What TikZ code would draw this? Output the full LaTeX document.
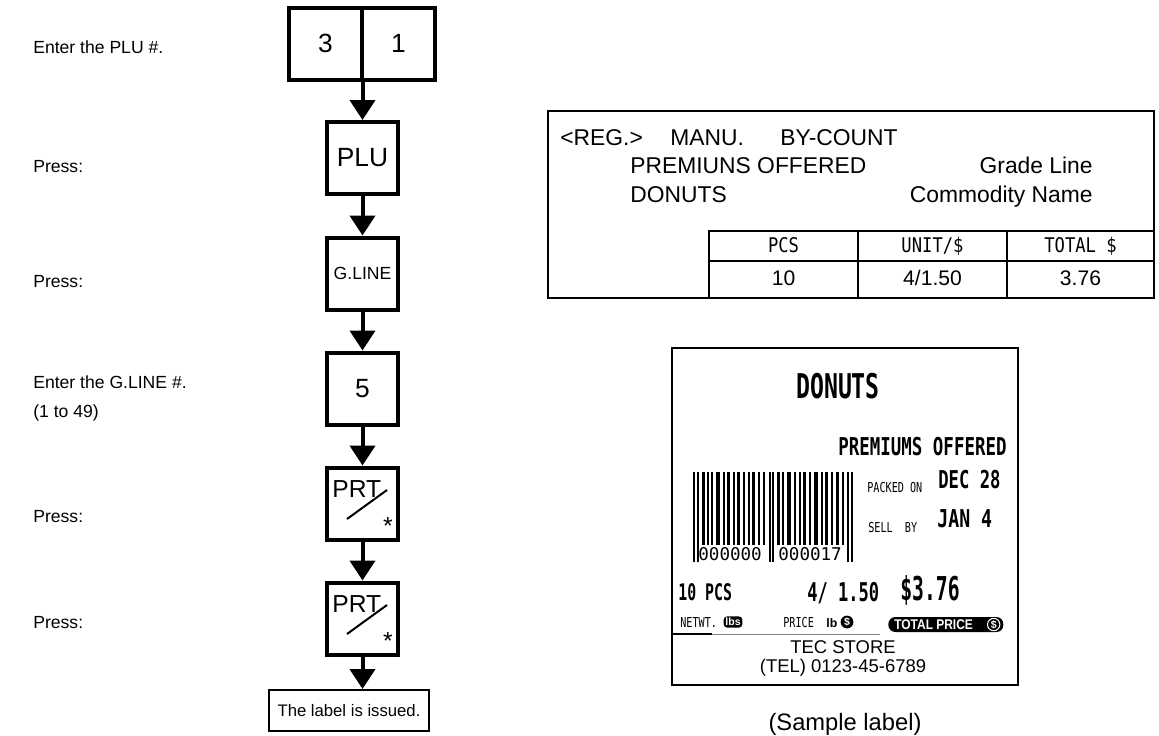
\documentclass[tikz,border=0pt]{standalone}
\usepackage{fontspec}
\usepackage{graphicx}
\setmainfont{Liberation Sans}
\newfontfamily\labelmono{DejaVu Sans Mono}
\usetikzlibrary{arrows.meta}
\newcommand{\fsz}[1]{\fontsize{#1}{#1}\selectfont}
\newcommand{\narrowtxt}[2]{\scalebox{#1}[1]{#2}}

\begin{document}
\begin{tikzpicture}[x=0.02cm, y=-0.02cm,
  key/.style={draw, line width=0.08cm, minimum width=1.44cm, minimum height=1.44cm, inner sep=0pt, font=\fsz{15}},
  flow/.style={line width=0.08cm, -{Triangle[width=0.5cm, length=0.4cm]}},
  note/.style={anchor=base west, inner sep=0pt, font=\fsz{10}},
  disp/.style={anchor=base west, inner sep=0pt, font=\fsz{13}},
  cell/.style={draw, line width=0.05cm, minimum width=2.98cm, inner sep=0pt, text height=1.6ex, text depth=0.3ex},
  prn/.style={anchor=base west, inner sep=0pt, font=\labelmono\bfseries\fsz{#1}},
  prnthin/.style={anchor=base west, inner sep=0pt, font=\labelmono\fsz{#1}}]
  \useasboundingbox (0,0) rectangle (1159,735);
  % operation steps
  \node[note] (s1)  at (33,53)  {Enter the PLU \#.};
  \node[note] (s2)  at (33,172) {Press:};
  \node[note] (s3)  at (33,287) {Press:};
  \node[note] (s4)  at (33,388) {Enter the G.LINE \#.};
  \node[note] (s4b) at (33,417) {(1 to 49)};
  \node[note] (s5)  at (33,522) {Press:};
  \node[note] (s6)  at (33,628) {Press:};
  % keys
  \node[key, minimum width=1.46cm] (k3) at (325.5,43.5) {3};
  \node[key, minimum width=1.46cm] (k1) at (398.5,43.5) {1};
  \node[key] (plu)   at (362.5,158)   {PLU};
  \node[key, font=\fsz{10}] (gline) at (362.5,273.5) {G.LINE};
  \node[key] (k5)    at (362.5,388.5) {5};
  \node[key] (prt1)  at (362.5,503.5) {};
  \node[key] (prt2)  at (362.5,618.5) {};
  \foreach \k in {prt1, prt2} {
    \node[anchor=base west, inner sep=0pt, font=\fsz{14}] (\k-txt) at ([shift={(-30.5,-6.5)}]\k.center) {PRT};
    \draw[line width=0.04cm] ([shift={(-15.5,15.5)}]\k.center) -- ([shift={(24.5,-13.5)}]\k.center);
    \node[anchor=north, inner sep=0pt, font=\fsz{14}] (\k-star) at ([shift={(25.5,13.5)}]\k.center) {*};
  }
  \node[draw, line width=0.04cm, minimum width=3.2cm, minimum height=0.82cm, inner sep=0pt, font=\fsz{9.5}] (res) at (349,710.5) {The label is issued.};
  % key flow
  \draw[flow] (plu.north |- k3.south) -- (plu.north);
  \draw[flow] (plu) -- (gline);
  \draw[flow] (gline) -- (k5);
  \draw[flow] (k5) -- (prt1);
  \draw[flow] (prt1) -- (prt2);
  \draw[flow] (prt2) -- (prt2 |- res.north);
  % display
  \node[draw, line width=0.05cm, minimum width=12.12cm, minimum height=3.74cm, inner sep=0pt] (dispbox) at (851,204.5) {};
  \node[disp] (dmode)  at (560,145) {<REG.>};
  \node[disp] (dmanu)  at (670,145) {MANU.};
  \node[disp] (dcount) at (780,145) {BY-COUNT};
  \node[disp] (dgrade) at (630,173) {PREMIUNS OFFERED};
  \node[disp, anchor=base east] (dgradel) at (1093,173) {Grade Line};
  \node[disp] (dname)  at (630,202) {DONUTS};
  \node[disp, anchor=base east] (dnamel) at (1093,202) {Commodity Name};
  \node[cell, minimum height=0.6cm, font=\labelmono\fsz{11.5}] (hpcs) at (783.5,246) {\narrowtxt{0.85}{PCS}};
  \node[cell, minimum height=0.6cm, font=\labelmono\fsz{11.5}] (hunit) at (932.5,246) {\narrowtxt{0.85}{UNIT/\$}};
  \node[cell, minimum height=0.6cm, minimum width=2.94cm, font=\labelmono\fsz{11.5}] (htotal) at (1080.5,246) {\narrowtxt{0.85}{TOTAL~\$}};
  \node[cell, minimum height=0.74cm, font=\fsz{12}] (vpcs) at (783.5,279.5) {10};
  \node[cell, minimum height=0.74cm, font=\fsz{12}] (vunit) at (932.5,279.5) {4/1.50};
  \node[cell, minimum height=0.74cm, minimum width=2.94cm, font=\fsz{12}] (vtotal) at (1080.5,279.5) {3.76};
  % sample label
  \node[draw, line width=0.03cm, minimum width=6.92cm, minimum height=6.74cm, inner sep=0pt] (labelbox) at (845,516.5) {};
  \node[prn=19.4, anchor=base] (lname) at (838,398) {\narrowtxt{0.68}{DONUTS}};
  \node[prn=14] (lgrade) at (838,455) {\narrowtxt{0.71}{PREMIUMS OFFERED}};
  \node[prnthin=7.8] (lpack) at (867,492) {\narrowtxt{0.74}{PACKED ON}};
  \node[prn=14] (lpackd) at (938,488) {\narrowtxt{0.7}{DEC 28}};
  \node[prnthin=7.8] (lsell) at (868,532) {\narrowtxt{0.74}{SELL~~BY}};
  \node[prn=14] (lselld) at (937,527) {\narrowtxt{0.74}{JAN 4}};
  % barcode
  \foreach \bx/\bw in {9/3, 14/1.5, 18/2, 23/4, 30/1.5, 34/2.5, 40/1.5, 44/3, 50/2, 55/1.5, 59/3, 65/2, 70/1.5,
                       84/3, 89/2, 94/4, 101/2, 106/1.5, 110/3, 116/2, 121/4, 128/1.5, 132/2.5, 138/2, 143/3, 149/1.5}
    \fill (693+\bx,472) rectangle ++(\bw,73);
  \foreach \bx/\bw in {0/2, 4/2, 76/1.5, 79/1.5, 154/2, 158/2}
    \fill (693+\bx,472) rectangle ++(\bw,90);
  \node[prnthin=10] (ldig1) at (698,560) {000000};
  \node[prnthin=10] (ldig2) at (778,560) {000017};
  % quantity, unit price, total
  \node[prn=13] (lpcs) at (678,600) {\narrowtxt{0.65}{10 PCS}};
  \node[prn=14.7] (lunit) at (807,601) {\narrowtxt{0.66}{4/ 1.50}};
  \node[prn=18.7] (ltotal) at (900,600) {\narrowtxt{0.6}{\$3.76}};
  \node[prnthin=7.8] (lnet) at (680,627) {\narrowtxt{0.74}{NETWT.}};
  \node[fill=black, rounded corners=2pt, text=white, inner sep=1pt, font=\bfseries\fsz{6}] (llbs) at (733,622) {lbs};
  \node[prnthin=7.8] (lprice) at (783,627) {\narrowtxt{0.74}{PRICE}};
  \node[anchor=base west, inner sep=0pt, font=\bfseries\fsz{7}] (llb) at (826,627) {lb};
  \node[fill=black, circle, inner sep=0.5pt, text=white, font=\bfseries\fsz{6}] (ldol) at (847,622) {\$};
  \node[fill=black, rounded corners=0.14cm, minimum width=2.3cm, minimum height=0.3cm, inner sep=0pt, anchor=west] (ltot) at (888,624.5) {};
  \node[text=white, inner sep=0pt, font=\bfseries\fsz{8}, anchor=west] (ltottxt) at ([shift={(6,0)}]ltot.west) {\narrowtxt{0.85}{TOTAL PRICE}};
  \node[circle, draw=white, line width=0.6pt, text=white, inner sep=0.4pt, font=\bfseries\fsz{6}] (ltotdol) at ([shift={(-10,0)}]ltot.east) {\$};
  \draw[black!50, line width=0.4pt] (labelbox.west |- 0,634) -- (880,634);
  \draw[line width=0.8pt] (labelbox.west |- 0,634) -- (712,634);
  \node[anchor=base, inner sep=0pt, font=\fsz{10.5}] (store) at (843,653) {TEC STORE};
  \node[anchor=base, inner sep=0pt, font=\fsz{10.5}] (tel) at (843,672) {(TEL) 0123-45-6789};
  \node[anchor=base, inner sep=0pt, font=\fsz{13.5}] (sample) at (845,730) {(Sample label)};
\end{tikzpicture}
\end{document}
